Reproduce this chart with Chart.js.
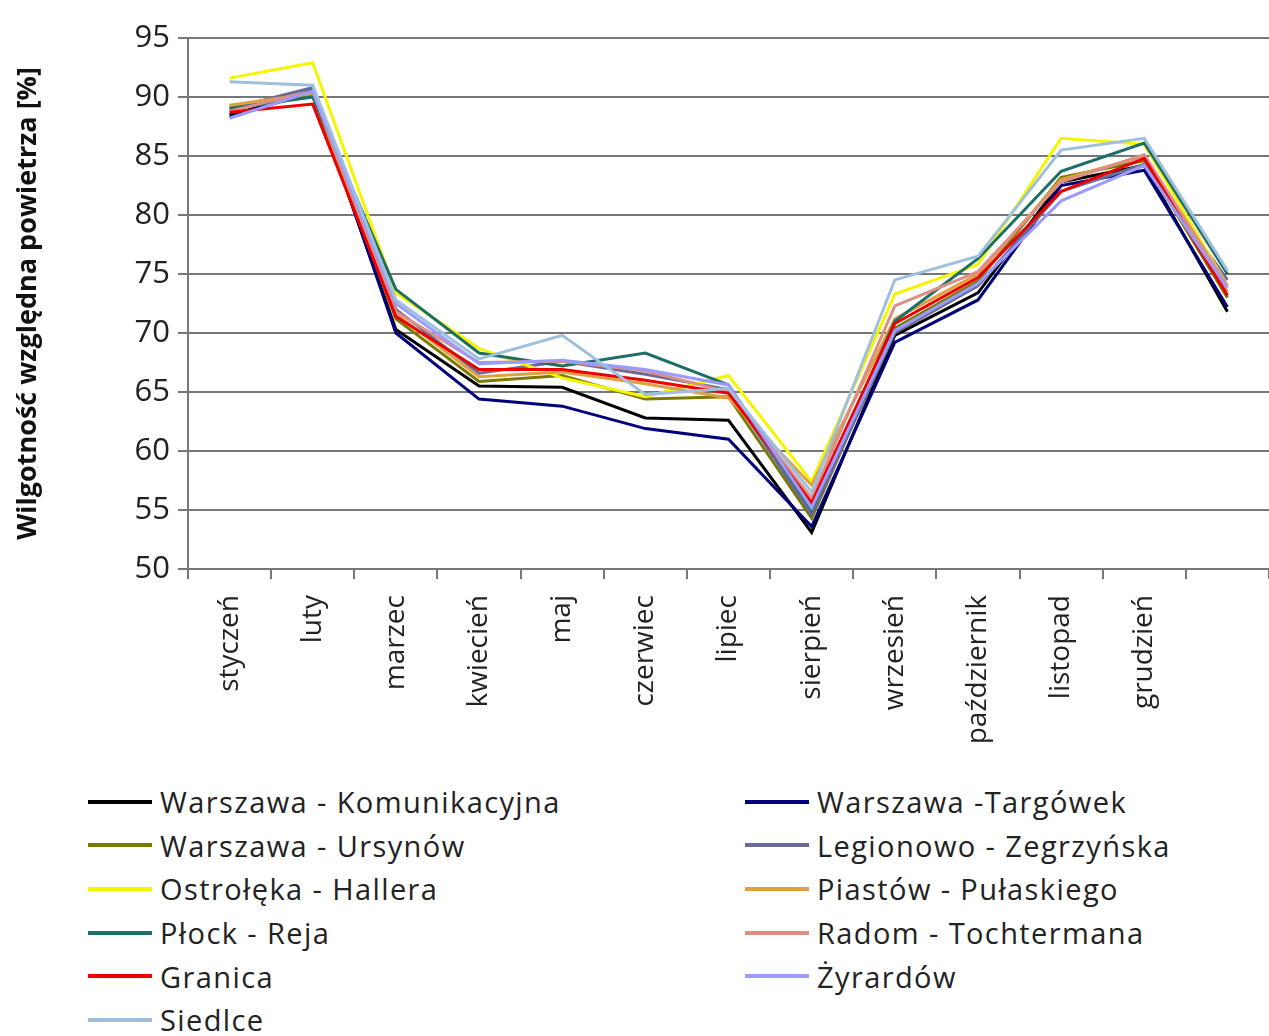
<!DOCTYPE html>
<html>
<head>
<meta charset="utf-8">
<script src="https://cdn.jsdelivr.net/npm/chart.js@4.4.1/dist/chart.umd.min.js"></script>
<style>
  html, body { margin: 0; background: #fff; font-family: "Open Sans", sans-serif; overflow: hidden; }
  #wrap { position: relative; width: 1269px; height: 775px; }
  #legend {
    position: absolute; left: 88px; top: 780px;
    display: grid; grid-template-columns: 657px 520px;
    grid-auto-rows: 43.6px; align-items: center;
    font-size: 29px; letter-spacing: 1.4px; color: #222;
  }
  .item { display: flex; align-items: center; white-space: nowrap; }
  .swatch { width: 64px; height: 4px; margin-right: 8px; }
</style>
</head>
<body>
<div id="wrap"><canvas id="humidity-chart"></canvas></div>
<div id="legend"></div>
<script>
// months (last slot has no label, as in the source chart)
const months = ["styczeń", "luty", "marzec", "kwiecień", "maj", "czerwiec", "lipiec",
  "sierpień", "wrzesień", "październik", "listopad", "grudzień", ""];

const komunikacyjna = [88.5, 90.3, 70.3, 65.5, 65.4, 62.8, 62.6, 53.1, 69.8, 73.4, 82.8, 84.2, 71.8];
const targowek      = [88.3, 90.6, 70.0, 64.4, 63.8, 61.9, 61.0, 53.6, 69.2, 72.8, 82.5, 83.8, 72.2];
const ursynow       = [89.2, 90.2, 71.2, 65.9, 66.4, 64.4, 64.6, 54.3, 70.4, 74.4, 83.2, 84.6, 73.0];
const legionowo     = [89.0, 90.8, 72.0, 66.6, 67.6, 66.5, 65.2, 54.6, 70.0, 74.0, 82.0, 84.3, 74.5];
const ostroleka     = [91.6, 92.9, 73.4, 68.7, 66.2, 64.6, 66.4, 57.4, 73.3, 75.8, 86.5, 86.0, 74.0];
const piastow       = [89.3, 90.3, 71.6, 66.3, 66.7, 65.7, 64.5, 57.1, 71.2, 75.0, 83.0, 85.0, 73.5];
const plock         = [89.0, 90.0, 73.7, 68.3, 67.2, 68.3, 65.6, 55.0, 71.0, 76.3, 83.7, 86.1, 75.0];
const radom         = [88.8, 90.5, 71.8, 67.5, 67.6, 66.8, 65.0, 56.0, 72.3, 75.2, 82.8, 85.1, 74.0];
const granica       = [88.7, 89.4, 71.4, 66.9, 66.9, 66.0, 64.9, 55.6, 70.8, 74.7, 82.0, 84.8, 73.2];
const zyrardow      = [88.2, 90.5, 72.5, 67.4, 67.7, 66.9, 65.6, 55.2, 70.2, 74.2, 81.2, 84.2, 73.8];
const siedlce       = [91.3, 91.0, 72.8, 67.8, 69.8, 64.8, 65.3, 56.5, 74.5, 76.5, 85.5, 86.5, 75.3];

const series = [
  ["Warszawa - Komunikacyjna", komunikacyjna, "#000000"],
  ["Warszawa -Targówek", targowek, "#00007a"],
  ["Warszawa - Ursynów", ursynow, "#7a7a00"],
  ["Legionowo - Zegrzyńska", legionowo, "#6a6a96"],
  ["Ostrołęka - Hallera", ostroleka, "#f5f500"],
  ["Piastów - Pułaskiego", piastow, "#e0a040"],
  ["Płock - Reja", plock, "#1d6f66"],
  ["Radom - Tochtermana", radom, "#dd8f85"],
  ["Granica", granica, "#ee0000"],
  ["Żyrardów", zyrardow, "#9a9aff"],
  ["Siedlce", siedlce, "#9fbfdf"]
];

const font = "'Open Sans', sans-serif";

const chart = new Chart(document.getElementById("humidity-chart"), {
  type: "line",
  data: {
    labels: months,
    datasets: series.map(([name, values, color], i) => ({
      label: name,
      data: values,
      borderColor: color,
      backgroundColor: color,
      borderWidth: 3,
      pointRadius: 0,
      tension: 0,
      fill: false,
      order: series.length - i
    }))
  },
  options: {
    responsive: true,
    maintainAspectRatio: false,
    animation: false,
    layout: { padding: { top: 38, right: 0, left: 0, bottom: 0 } },
    plugins: {
      legend: { display: false },
      tooltip: { enabled: false }
    },
    scales: {
      x: {
        offset: true,
        afterFit: (scale) => {
          scale.height = 206;
          scale.paddingLeft = 0;
          scale.paddingRight = 0;
        },
        grid: { offset: true, drawOnChartArea: false, color: "#777", lineWidth: 2, tickLength: 10 },
        border: { color: "#777", width: 2 },
        ticks: {
          minRotation: 90, maxRotation: 90, autoSkip: false,
          color: "#222", padding: 16,
          font: { family: font, size: 28 }
        }
      },
      y: {
        min: 50, max: 95,
        afterFit: (scale) => { scale.width = 188; },
        grid: { color: "#777", lineWidth: 2, tickLength: 10 },
        border: { color: "#777", width: 2 },
        ticks: {
          stepSize: 5, color: "#222", padding: 8,
          font: { family: font, size: 31 }
        },
        title: {
          display: true,
          text: "Wilgotność względna powietrza [%]",
          color: "#111",
          padding: { top: 12, bottom: 12 },
          font: { family: font, size: 27, weight: "bold" }
        }
      }
    }
  }
});

// two-column legend, Excel style
const legend = document.getElementById("legend");
chart.data.datasets.forEach((ds) => {
  const item = document.createElement("div");
  item.className = "item";
  item.innerHTML = '<span class="swatch" style="background:' + ds.borderColor + '"></span>' + ds.label;
  legend.appendChild(item);
});
</script>
</body>
</html>
